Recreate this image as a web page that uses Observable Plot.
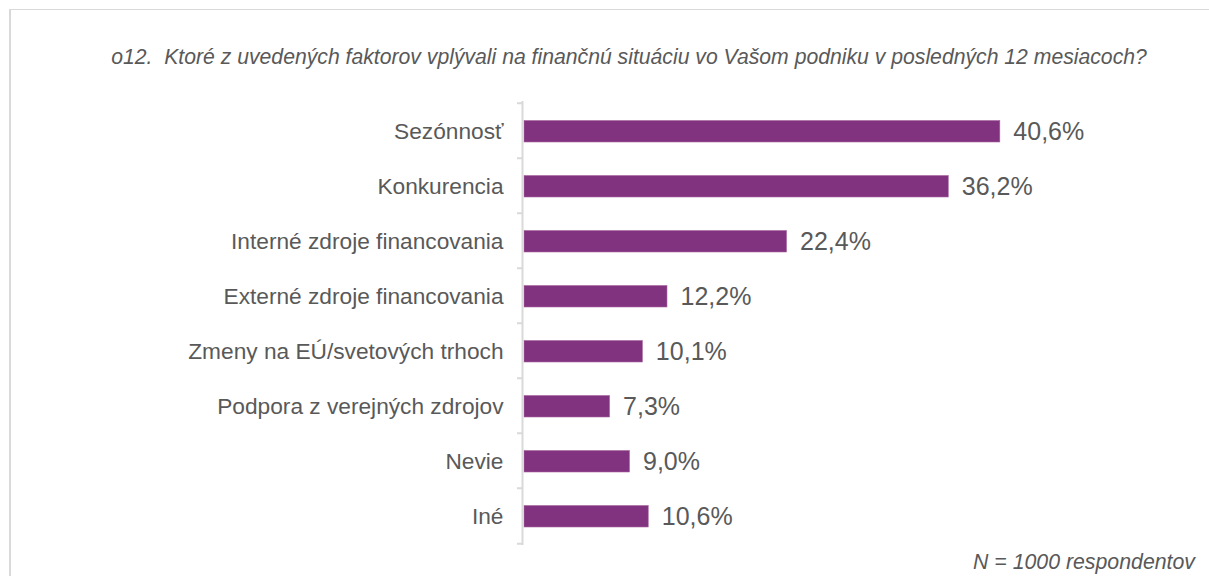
<!DOCTYPE html>
<html>
<head>
<meta charset="utf-8">
<script src="https://cdn.jsdelivr.net/npm/d3@7"></script>
<script src="https://cdn.jsdelivr.net/npm/@observablehq/plot@0.6"></script>
<style>
  html, body { margin: 0; padding: 0; background: #fff; }
  #wrap { position: relative; width: 1209px; height: 576px; overflow: hidden; font-family: "Liberation Sans", Arial, sans-serif; }
  #box { position: absolute; left: 9px; top: 9px; width: 1300px; height: 700px; border-left: 2px solid #d9d9d9; border-top: 1px solid #d9d9d9; }
  #clip { position: absolute; left: 212px; top: -20px; font-size: 21px; line-height: 24px; color: #595959; }
  #title { position: absolute; left: 0; width: 1258px; top: 45px; line-height: 24px; text-align: center; font-style: italic; font-size: 21.2px; color: #595959; white-space: nowrap; }
  #note { position: absolute; right: 14px; top: 550px; line-height: 24px; font-style: italic; font-size: 21.3px; color: #595959; }
  #chart { position: absolute; left: 0; top: 0; }
</style>
</head>
<body>
<div id="wrap">
  <div id="box"></div>
  <div id="clip">Tabuľka 7</div>
  <div id="chart"></div>
  <div id="title">o12.&nbsp; Ktoré z uvedených faktorov vplývali na finančnú situáciu vo Vašom podniku v posledných 12 mesiacoch?</div>
  <div id="note">N = 1000 respondentov</div>
</div>
<script>
const categories = [
  "Sezónnosť",
  "Konkurencia",
  "Interné zdroje financovania",
  "Externé zdroje financovania",
  "Zmeny na EÚ/svetových trhoch",
  "Podpora z verejných zdrojov",
  "Nevie",
  "Iné"
];
const values = [40.6, 36.2, 22.4, 12.2, 10.1, 7.3, 9.0, 10.6];

const data = categories.map((c, i) => ({category: c, value: values[i]}));
const fmt = v => v.toFixed(1).replace(".", ",") + "%";

const W = 1209, H = 576;
const mTop = 101, mBottom = 31, mLeft = 524;
const pxPerUnit = 11.72;
const xMax = 50;
const mRight = W - mLeft - xMax * pxPerUnit;
const step = (H - mTop - mBottom) / categories.length;

const chart = Plot.plot({
  width: W,
  height: H,
  marginTop: mTop,
  marginBottom: mBottom,
  marginLeft: mLeft,
  marginRight: mRight,
  style: {fontFamily: "'Liberation Sans', Arial, sans-serif", background: "transparent"},
  x: {domain: [0, xMax], axis: null},
  y: {domain: categories, paddingInner: 0, paddingOuter: 0, label: null},
  marks: [
    Plot.barX(data, {x: "value", y: "category", fill: "#82337f", stroke: "#a7669f", strokeWidth: 0.6, insetTop: 17.5, insetBottom: 16}),
    Plot.ruleX([0], {stroke: "#d9d9d9", strokeWidth: 2, dx: -2}),
    Plot.axisY({ticks: categories, tickSize: 6, text: null, stroke: "#d9d9d9", strokeWidth: 2, strokeOpacity: 1, dy: -step / 2, dx: -1, label: null}),
    Plot.axisY({ticks: categories.slice(-1), tickSize: 6, text: null, stroke: "#d9d9d9", strokeWidth: 2, strokeOpacity: 1, dy: step / 2, dx: -1, label: null}),
    Plot.axisY({tickSize: 0, tickPadding: 21, fontSize: 22.7, fill: "#595959", label: null, dy: 1}),
    Plot.text(data, {x: "value", y: "category", text: d => fmt(d.value), textAnchor: "start", dx: 13, dy: 1, fontSize: 25, fill: "#595959"})
  ]
});
document.getElementById("chart").appendChild(chart);
</script>
</body>
</html>
